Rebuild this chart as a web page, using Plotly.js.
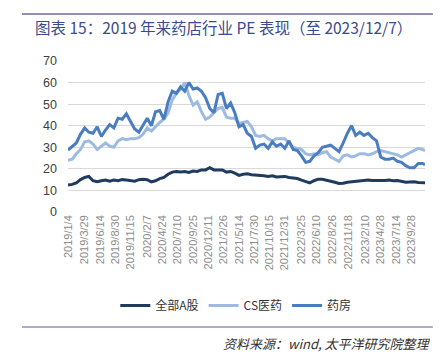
<!DOCTYPE html>
<html>
<head>
<meta charset="utf-8">
<script src="https://cdn.plot.ly/plotly-3.0.1.min.js"></script>
<style>
html,body{margin:0;padding:0;background:#fff;}
#chart{width:443px;height:363px;}
</style>
</head>
<body>
<div id="chart"></div>
<script>
const dates = [
"2019-01-04","2019-01-25","2019-02-15","2019-03-08","2019-03-29","2019-04-19","2019-05-10","2019-05-31","2019-06-21","2019-07-12",
"2019-08-02","2019-08-23","2019-09-13","2019-10-04","2019-10-25","2019-11-15","2019-12-06","2019-12-27","2020-01-17","2020-02-07",
"2020-02-28","2020-03-20","2020-04-10","2020-05-01","2020-05-22","2020-06-12","2020-07-03","2020-07-24","2020-08-14","2020-09-04",
"2020-09-25","2020-10-16","2020-11-06","2020-11-27","2020-12-18","2021-01-08","2021-01-29","2021-02-19","2021-03-12","2021-04-02",
"2021-04-23","2021-05-14","2021-06-04","2021-06-25","2021-07-16","2021-08-06","2021-08-27","2021-09-17","2021-10-08","2021-10-29",
"2021-11-19","2021-12-10","2021-12-31","2022-01-21","2022-02-11","2022-03-04","2022-03-25","2022-04-15","2022-05-06","2022-05-27",
"2022-06-17","2022-07-08","2022-07-29","2022-08-19","2022-09-09","2022-09-30","2022-10-21","2022-11-11","2022-12-02","2022-12-23",
"2023-01-13","2023-02-03","2023-02-24","2023-03-17","2023-04-07","2023-04-28","2023-05-19","2023-06-09","2023-06-30","2023-07-21",
"2023-08-11","2023-09-01","2023-09-22","2023-10-13","2023-11-03","2023-11-24","2023-12-07"
];

const allA = [
12.5,12.8,13.5,15,16,16.5,14.5,14,14.5,14.8,
14.3,14.8,14.5,15,14.8,14.5,14.3,15,15.2,15,
14,14.5,15.5,16,17.5,18.5,18.8,18.5,18.8,18.3,
19,18.8,19.5,19.5,20.5,19.5,19.5,19.5,18.5,18.8,
18,17,17.5,17.7,17.3,17.2,17,16.8,16.5,16.8,
16.2,16.5,16.5,16,15.8,15.5,14.8,14,13.5,14.5,
15.2,15.2,14.8,14.5,13.8,13.2,13.3,13.8,14,14.5,
14.6,14.7,14.8,14.6,14.5,14.5,14.6,14.8,14.5,14.6,
14.3,13.8,13.9,14,13.7,13.6,13.6
];

const csMed = [
24,24.5,27,29,32.5,33,31.5,29,30.5,32,
30.5,30,33,34,33.5,34,34,34.5,36,39,
37.5,39.5,41.5,43,46,52,55,57,60,54,
49.5,51,46.5,43,44,46,48,48.5,44,43.5,
43.5,41,41.5,42,39.5,35.5,35,35.5,34,33,
34,34,34,32,30,29.5,29,27,26.5,27,
26.5,27.5,28,25.5,24.5,23.5,26,26.5,25.5,26,
27,27,26.5,27,28,28.5,28,27.5,27,26.5,
25.5,26.5,27.5,28.5,29.5,29,28.5
];

const pharmacy = [
28.7,30.5,32,36,39,37,36.5,39.5,35,38,
40.5,39,43.5,43,45.5,42,38.5,37,40,43.5,
40,46.5,47,43,51,56,55,58,56,60,
57,57.5,56,53,48,46,54.5,55,48,50.5,
46,39.5,40.5,36.5,35,29.5,31,31.5,29.5,32.5,
30.5,31.5,29.5,33,29,28.5,26,23,23.5,26,
27.5,30,30.5,31,29.5,28,32,36.5,40,35.5,
37,35.5,36.5,34.5,33,25.5,24.5,24.5,25,23.5,
23,21.5,20.5,20.5,22.5,22.5,22
];

const tickDates = ["2019-01-04","2019-03-29","2019-06-14","2019-08-30","2019-11-15","2020-02-07","2020-04-24","2020-07-10","2020-09-25","2020-12-11","2021-02-26","2021-05-14","2021-07-30","2021-10-15","2021-12-31","2022-03-25","2022-06-10","2022-08-26","2022-11-18","2023-02-10","2023-04-28","2023-07-14","2023-09-28"];
const tickLabels = ["2019/1/4","2019/3/29","2019/6/14","2019/8/30","2019/11/15","2020/2/7","2020/4/24","2020/7/10","2020/9/25","2020/12/11","2021/2/26","2021/5/14","2021/7/30","2021/10/15","2021/12/31","2022/3/25","2022/6/10","2022/8/26","2022/11/18","2023/2/10","2023/4/28","2023/7/14","2023/9/28"];

const seriesNames = ["全部A股","CS医药","药房"];
const colors = ["#1F3B5E","#9DBBE0","#4A7DBF"];
const series = [allA, csMed, pharmacy];

const traces = series.map((s,i)=>({
  x: dates, y: s, type:"scatter", mode:"lines", name: seriesNames[i],
  line:{color:colors[i], width:3}
}));

const cjk = '"Noto Sans CJK SC", "Liberation Sans", sans-serif';
const layout = {
  width:443, height:363,
  margin:{l:68, r:18, t:61, b:151},
  paper_bgcolor:"#fff", plot_bgcolor:"#fff",
  showlegend:true,
  legend:{orientation:"h", x:0.47, xanchor:"center", y:-0.62, yanchor:"middle",
    font:{family:cjk, size:12, color:"#333"}, itemwidth:30, tracegroupgap:0},
  xaxis:{type:"date", range:["2019-01-04","2023-12-07"], tickvals:tickDates, ticktext:tickLabels,
    tickangle:-90, tickfont:{family:'"Liberation Sans", sans-serif', size:11, color:"#8C8C8C"},
    showgrid:false, showline:false, zeroline:false, ticks:""},
  yaxis:{range:[0,70], dtick:10, tick0:0, showgrid:true, gridcolor:"#D9D9D9", gridwidth:1,
    zeroline:false, showline:false, ticks:"", ticklabelstandoff:10,
    tickfont:{family:'"Liberation Sans", sans-serif', size:12.5, color:"#404040"}},
  shapes:[
    {type:"line", xref:"paper", yref:"paper", x0:-0.129, x1:1.022, y0:1.311, y1:1.311, line:{color:"#8F8FB8", width:2}},
    {type:"line", xref:"paper", yref:"paper", x0:-0.129, x1:1.022, y0:-0.762, y1:-0.762, line:{color:"#8F8FB8", width:1.5}}
  ],
  annotations:[
    {text:"图表 15：2019 年来药店行业 PE 表现（至 2023/12/7）", xref:"paper", yref:"paper",
     x:-0.098, xanchor:"left", y:1.225, yanchor:"middle", showarrow:false,
     font:{family:cjk, size:15.5, color:"#3B4A8C"}},
    {text:"<i>资料来源：wind, 太平洋研究院整理</i>", xref:"paper", yref:"paper",
     x:1.022, xanchor:"right", y:-0.87, yanchor:"middle", showarrow:false,
     font:{family:cjk, size:13, color:"#333"}}
  ]
};
Plotly.newPlot("chart", traces, layout, {displayModeBar:false, staticPlot:true});
</script>
</body>
</html>
